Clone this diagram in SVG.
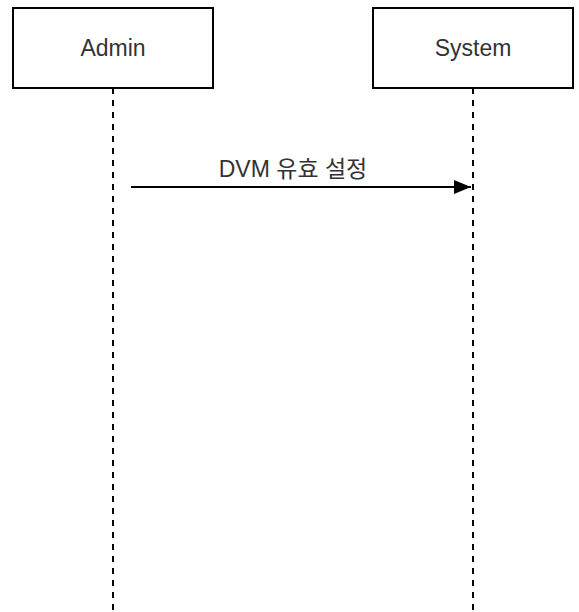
<svg xmlns="http://www.w3.org/2000/svg" width="579" height="612" viewBox="0 0 579 612">
<style>
.box{fill:#fff;stroke:#000;stroke-width:2}
.life{stroke:#000;stroke-width:2;stroke-dasharray:6 6;fill:none}
.lbl{font-family:"Liberation Sans","Noto Sans CJK KR",Arial,sans-serif;font-size:23px;fill:#333;text-anchor:middle}
.msg{stroke:#000;stroke-width:2;fill:none}
</style>
<defs>
<marker id="arr" markerUnits="userSpaceOnUse" markerWidth="18" markerHeight="16" refX="17" refY="7" orient="auto">
<path d="M0,0 L17,7 L0,14 Z" fill="#000"/>
</marker>
</defs>
<rect width="579" height="612" fill="#fff"/>
<g id="admin">
<line class="life" x1="113" y1="88" x2="113" y2="612"/>
<rect class="box" x="13" y="8" width="200" height="80"/>
<text class="lbl" x="113" y="56">Admin</text>
</g>
<g id="system">
<line class="life" x1="473" y1="88" x2="473" y2="612"/>
<rect class="box" x="373" y="8" width="200" height="80"/>
<text class="lbl" x="473" y="56">System</text>
</g>
<g id="connectors">
<line class="msg" x1="131" y1="187" x2="471" y2="187" marker-end="url(#arr)"/>
<text class="lbl" x="293" y="177">DVM 유효 설정</text>
</g>
</svg>
